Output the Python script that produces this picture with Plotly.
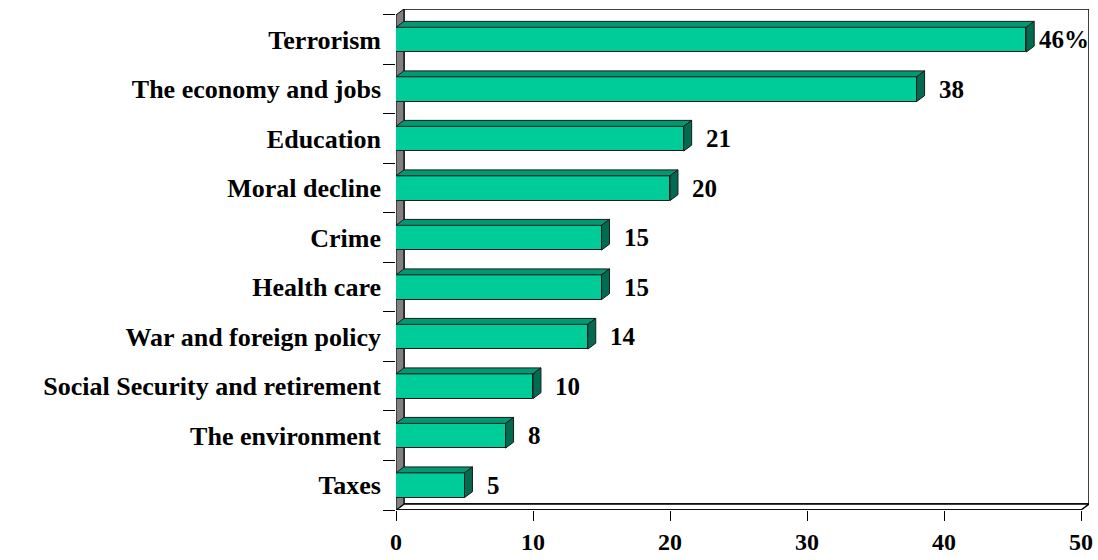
import plotly.graph_objects as go

# ---- data ----
categories = ["Terrorism", "The economy and jobs", "Education", "Moral decline",
              "Crime", "Health care", "War and foreign policy",
              "Social Security and retirement", "The environment", "Taxes"]
values = [46, 38, 21, 20, 15, 15, 14, 10, 8, 5]
value_labels = ["46%", "38", "21", "20", "15", "15", "14", "10", "8", "5"]
x_ticks = [0, 10, 20, 30, 40, 50]

# ---- styling ----
FRONT = "#00CC99"
TOP = "#009973"
SIDE = "#006B50"
EDGE = "#1a1a1a"
WALL = "#808080"
FONT = "Liberation Serif"

n = len(categories)
pos = list(range(n))[::-1]          # Terrorism on top
xmax = max(x_ticks)
dx = 0.58                            # depth in x data units
dy = 0.12                            # depth in category units
half = 0.25                          # half bar thickness

fig = go.Figure()

# back wall, floor, left wall (decor, computed from axis extents)
ylo, yhi = -0.5, n - 0.5
fig.add_shape(type="path", layer="below", xref="x", yref="y",
              path=f"M {dx},{ylo+dy} L {xmax+dx},{ylo+dy} L {xmax+dx},{yhi+dy} L {dx},{yhi+dy} Z",
              fillcolor="white", line=dict(color="black", width=1.5))
fig.add_shape(type="path", layer="below", xref="x", yref="y",
              path=f"M 0,{ylo} L {xmax},{ylo} L {xmax+dx},{ylo+dy} L {dx},{ylo+dy} Z",
              fillcolor="white", line=dict(color="black", width=1.5))
fig.add_shape(type="path", layer="below", xref="x", yref="y",
              path=f"M 0,{ylo} L 0,{yhi} L {dx},{yhi+dy} L {dx},{ylo+dy} Z",
              fillcolor=WALL, line=dict(color="black", width=1))

# front faces
fig.add_trace(go.Bar(x=values, y=pos, orientation="h", width=2 * half,
                     marker=dict(color=FRONT, line=dict(color=EDGE, width=1)),
                     hoverinfo="skip", showlegend=False))

# top and side faces
tx, ty, sx, sy = [], [], [], []
for v, p in zip(values, pos):
    tx += [0, v, v + dx, dx, 0, None]
    ty += [p + half, p + half, p + half + dy, p + half + dy, p + half, None]
    sx += [v, v + dx, v + dx, v, v, None]
    sy += [p - half, p - half + dy, p + half + dy, p + half, p - half, None]
fig.add_trace(go.Scatter(x=tx, y=ty, mode="lines", fill="toself", fillcolor=TOP,
                         line=dict(color=EDGE, width=1), hoverinfo="skip", showlegend=False))
fig.add_trace(go.Scatter(x=sx, y=sy, mode="lines", fill="toself", fillcolor=SIDE,
                         line=dict(color=EDGE, width=1), hoverinfo="skip", showlegend=False))

# front axis line
fig.add_trace(go.Scatter(x=[0, xmax], y=[ylo, ylo], mode="lines",
                         line=dict(color="black", width=1.5), hoverinfo="skip", showlegend=False))

# value labels
for v, p, lab in zip(values, pos, value_labels):
    fig.add_annotation(x=v, y=p, text=lab, showarrow=False, xanchor="left",
                       xshift=11 if "%" in lab else 20,
                       font=dict(family=FONT, size=25, color="black", weight="bold"))

fig.update_layout(
    width=1098, height=560,
    margin=dict(l=396, r=5, t=9, b=43),
    paper_bgcolor="white", plot_bgcolor="white",
    bargap=0, showlegend=False,
    xaxis=dict(range=[0, xmax + dx], tickvals=x_ticks, ticktext=[str(t) for t in x_ticks],
               ticks="outside", ticklen=10, tickcolor="black", tickwidth=1,
               showline=False, showgrid=False, zeroline=False,
               tickfont=dict(family=FONT, size=24, color="black", weight="bold")),
    yaxis=dict(range=[ylo, yhi + dy], tickvals=pos, ticktext=categories,
               ticks="", showline=False, showgrid=False, zeroline=False,
               ticklabelstandoff=14,
               minor=dict(tickvals=[p - 0.5 for p in range(n + 1)], ticks="outside",
                          ticklen=12, tickcolor="black", tickwidth=1, showgrid=False),
               tickfont=dict(family=FONT, size=26, color="black", weight="bold")),
)

fig.write_html("out.html")
